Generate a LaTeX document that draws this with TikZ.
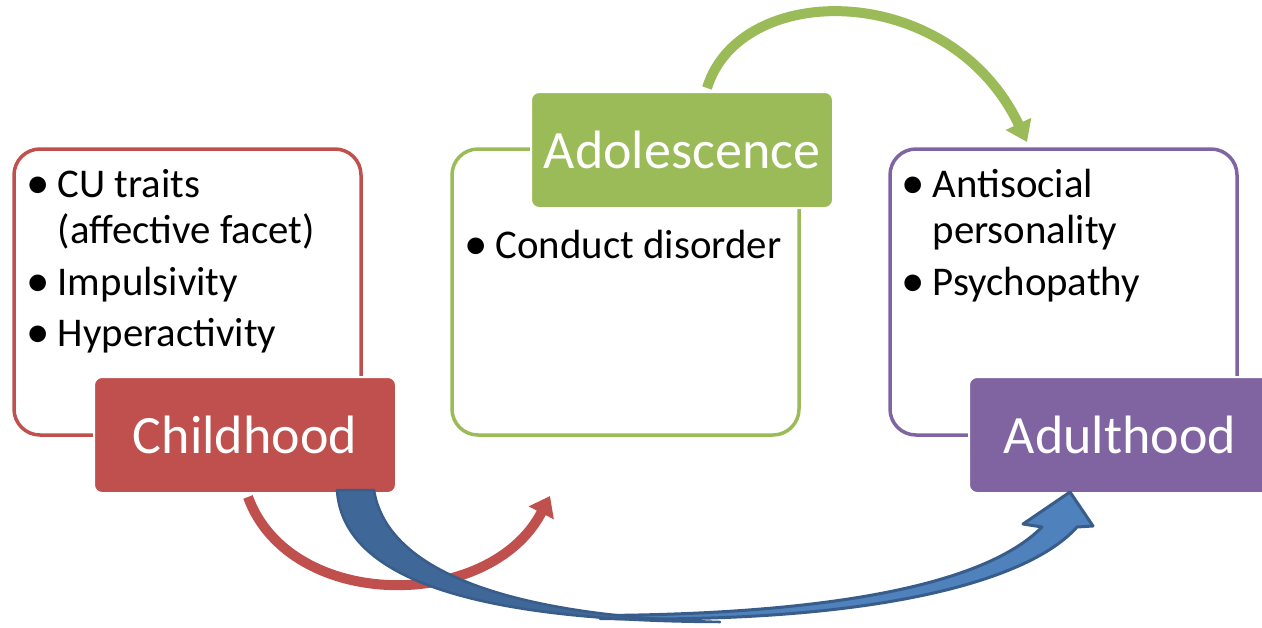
\documentclass[tikz,border=0pt]{standalone}
\usepackage{fontspec}
\setmainfont{Carlito}
\usetikzlibrary{arrows.meta}
\definecolor{cred}{HTML}{C0504D}
\definecolor{cgreen}{HTML}{9BBB59}
\definecolor{cpurple}{HTML}{8064A2}
\definecolor{cblue}{HTML}{4F81BD}
\definecolor{bdark}{HTML}{385D8A}
\definecolor{bback}{HTML}{3F6797}
\newcommand\itembul{\makebox[0pt]{\raisebox{-1.5pt}{\scalebox{1.15}{\textbullet}}}\hspace{19.5pt}}
\newcommand\itemskip{\hspace{19.5pt}}
\begin{document}
\begin{tikzpicture}[x=1pt,y=-1pt,
 outbox/.style={draw, line width=3.5pt, rounded corners=26pt, minimum width=347pt, minimum height=286pt, inner sep=0pt},
 stage/.style={rounded corners=8pt, draw=white, line width=2pt, minimum width=302pt, minimum height=116pt, text=white, font=\fontsize{54}{60}\selectfont, inner sep=0pt, text depth=0pt},
 items/.style={inner sep=0pt, anchor=base west, font=\fontsize{40.8}{46}\selectfont},
 flow/.style={line width=10pt}
]
\clip (0,0) rectangle (1262,627);
\fill[white] (0,0) rectangle (1262,627);

% outline boxes
\node[outbox, draw=cred] (cbox) at (187.5,292) {};
\node[outbox, draw=cgreen] (abox) at (625.5,292) {};
\node[outbox, draw=cpurple] (dbox) at (1063.5,292) {};

% item lists
\node[items] (clist) at (38,197) {\begin{tabular}[t]{@{}l@{}}\itembul CU traits\\\itemskip(affective facet)\\[6pt]\itembul Impulsivity\\[5pt]\itembul Hyperactivity\end{tabular}};
\node[items] (alist) at (476,258) {\begin{tabular}[t]{@{}l@{}}\itembul Conduct disorder\end{tabular}};
\node[items] (dlist) at (913,197) {\begin{tabular}[t]{@{}l@{}}\itembul Antisocial\\\itemskip personality\\[6pt]\itembul Psychopathy\end{tabular}};

% stage labels
\node[stage, fill=cred] (child) at (245,435) {Childhood};
\node[stage, fill=cgreen] (adol) at (682,150) {Adolescence};
\node[stage, fill=cpurple] (adult) at (1120,435) {Adulthood};

% named ends
\coordinate (rs) at (248,497);
\coordinate (re) at (550,496);
\coordinate (gs) at (707,88);
\coordinate (ge) at (1027,142);

% red arrow
\draw[flow, cred, -{Triangle[length=19pt,width=27pt]}] (rs) .. controls (290,612) and (490,612) .. (re);
% green arrow
\draw[flow, cgreen, -{Triangle[length=20pt,width=27pt]}] (gs) .. controls (740,-20) and (950,-20) .. (ge);

% blue curved arrow: front part with head
\filldraw[fill=cblue, draw=bdark, line width=3pt, line join=round]
 (600,615.5) .. controls (850,614) and (990,580) .. (1042,527)
 -- (1023,524) -- (1070,492) -- (1093,526) -- (1077,527)
 .. controls (1030,580) and (880,624) .. (600,618.5) -- cycle;
% blue curved arrow: back part
\filldraw[fill=bback, draw=bdark, line width=2.5pt, line join=round]
 (337,490) .. controls (342,570) and (450,621) .. (720,622)
 .. controls (480,615) and (385,560) .. (374,490) -- cycle;
\end{tikzpicture}
\end{document}
